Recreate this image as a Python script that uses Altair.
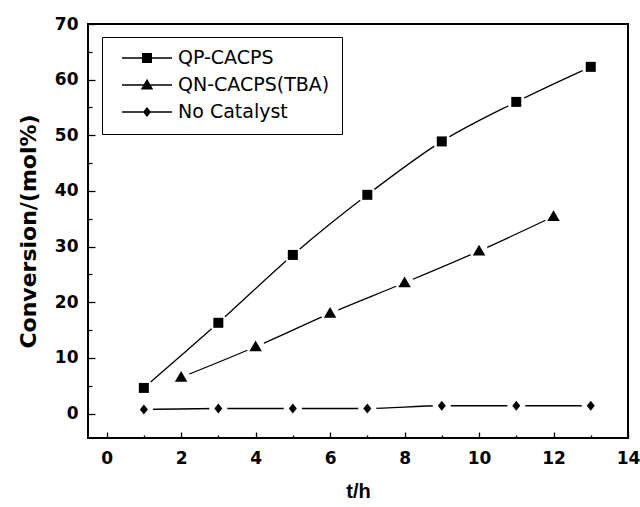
import altair as alt
import pandas as pd

# ---- data ----
series_names = ["QP-CACPS", "QN-CACPS(TBA)", "No Catalyst"]
t_qp = [1, 3, 5, 7, 9, 11, 13]
conv_qp = [4.6, 16.3, 28.5, 39.3, 48.9, 56.0, 62.3]
t_qn = [2, 4, 6, 8, 10, 12]
conv_qn = [6.5, 12.0, 18.0, 23.5, 29.2, 35.4]
t_nc = [1, 3, 5, 7, 9, 11, 13]
conv_nc = [0.7, 0.9, 0.9, 0.9, 1.4, 1.4, 1.4]

x_major = [0, 2, 4, 6, 8, 10, 12, 14]
x_minor = [1, 3, 5, 7, 9, 11, 13]
y_major = [0, 10, 20, 30, 40, 50, 60, 70]
y_minor = [5, 15, 25, 35, 45, 55, 65]

rows = []
for name, ts, vs in zip(series_names, [t_qp, t_qn, t_nc], [conv_qp, conv_qn, conv_nc]):
    for t, v in zip(ts, vs):
        rows.append({"series": name, "t": t, "conv": v})
df = pd.DataFrame(rows)

# marker shapes (unit paths, scaled by symbol size)
marker_paths = [
    "M-1,-1H1V1H-1Z",
    "M0,-1.25L1.25,0.9L-1.25,0.9Z",
    "M0,-1L0.8,0L0,1L-0.8,0Z",
]
# legend symbols: line segment + marker
legend_paths = [
    "M-1,-0.03H1V0.03H-1Z M-0.2,-0.2H0.2V0.2H-0.2Z",
    "M-1,-0.03H1V0.03H-1Z M0,-0.25L0.25,0.18L-0.25,0.18Z",
    "M-1,-0.03H1V0.03H-1Z M0,-0.2L0.16,0L0,0.2L-0.16,0Z",
]

xscale = alt.Scale(domain=[-0.5, 14], nice=False, zero=False)
yscale = alt.Scale(domain=[-4.4, 70], nice=False, zero=False)

major_x_axis = alt.Axis(orient="bottom", values=x_major, tickSize=6, offset=-6,
                        labelPadding=12, domain=False, grid=False, title="t/h",
                        labelFlush=False, labelOverlap=False,
                        titleFont="Liberation Sans", titleFontSize=20,
                        titleFontWeight="bold", titlePadding=15)
major_y_axis = alt.Axis(orient="left", values=y_major, tickSize=7, offset=-7,
                        labelPadding=10, domain=False, grid=False,
                        title="Conversion/(mol%)", labelFlush=False,
                        labelOverlap=False, titleFont="DejaVu Sans",
                        titleFontSize=22, titleFontWeight="bold", titlePadding=14)
minor_x_axis = alt.Axis(orient="bottom", values=x_minor, tickSize=3, offset=-3,
                        labels=False, domain=False, grid=False, title=None)
minor_y_axis = alt.Axis(orient="left", values=y_minor, tickSize=4, offset=-4,
                        labels=False, domain=False, grid=False, title=None)

base = alt.Chart(df)

lines = base.mark_line(interpolate="monotone", color="black", strokeWidth=1.3).encode(
    x=alt.X("t:Q", scale=xscale, axis=major_x_axis),
    y=alt.Y("conv:Q", scale=yscale, axis=major_y_axis),
    detail="series:N",
)

halo = base.mark_point(filled=True, shape="circle", size=330, color="white",
                       opacity=1).encode(
    x=alt.X("t:Q", scale=xscale, axis=minor_x_axis),
    y=alt.Y("conv:Q", scale=yscale, axis=minor_y_axis),
)

points = base.mark_point(filled=True, size=100, color="black", opacity=1,
                         strokeWidth=0).encode(
    x=alt.X("t:Q", scale=xscale, axis=None),
    y=alt.Y("conv:Q", scale=yscale, axis=None),
    shape=alt.Shape("series:N", scale=alt.Scale(domain=series_names, range=marker_paths),
                    legend=None),
)

legend_layer = base.mark_point(filled=True, color="black", opacity=1,
                               strokeWidth=0).encode(
    x=alt.X("t:Q", scale=xscale, axis=None),
    y=alt.Y("conv:Q", scale=yscale, axis=None),
    shape=alt.Shape("series:N",
                    scale=alt.Scale(domain=series_names, range=legend_paths),
                    legend=alt.Legend(title=None, orient="none", legendX=14, legendY=13,
                                      fillColor="white", strokeColor="black",
                                      padding=12, rowPadding=8, clipHeight=18,
                                      symbolSize=2500, symbolOffset=8, labelOffset=6,
                                      symbolStrokeWidth=0, symbolFillColor="black",
                                      symbolOpacity=1,
                                      labelFont="DejaVu Sans", labelFontSize=19,
                                      labelColor="black", labelLimit=400)),
).transform_filter("false")

chart = alt.layer(lines, halo, points, legend_layer).resolve_scale(
    shape="independent"
).resolve_axis(
    x="independent", y="independent"
).properties(
    width=540, height=414,
    autosize=alt.AutoSizeParams(type="none"),
    padding={"left": 88, "top": 24, "right": 12, "bottom": 69},
    background="white",
).configure_view(
    stroke="black", strokeWidth=2
).configure_axis(
    tickColor="black", tickWidth=1.3, labelColor="black", titleColor="black",
    labelFont="DejaVu Sans", labelFontSize=17, labelFontWeight="bold",
)

chart.save("out.html", embed_options={"renderer": "svg", "actions": False})
